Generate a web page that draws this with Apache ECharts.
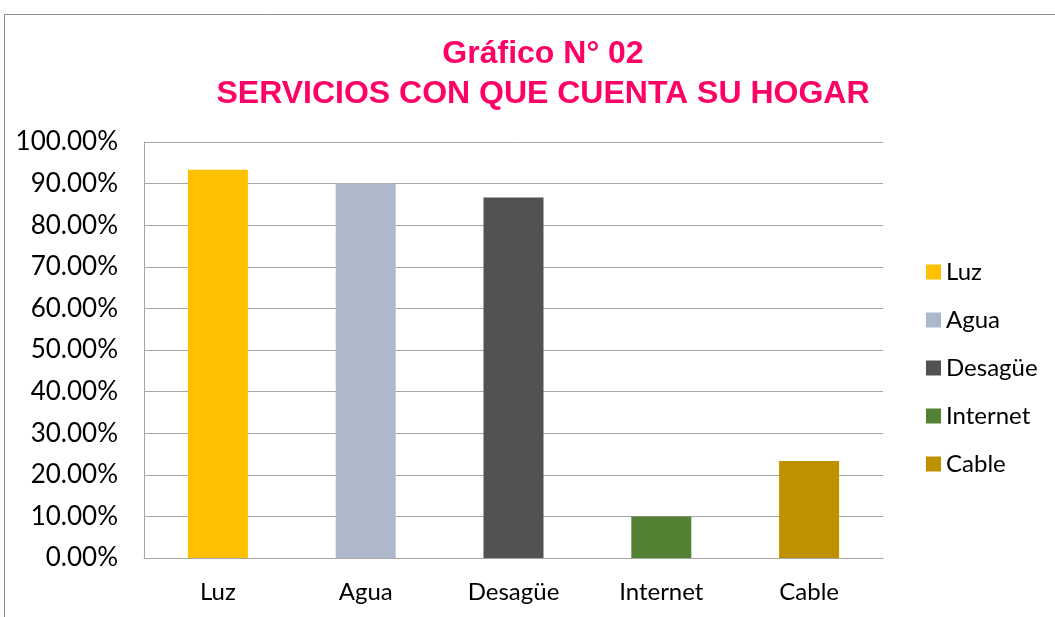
<!DOCTYPE html>
<html>
<head>
<meta charset="utf-8">
<script src="https://cdn.jsdelivr.net/npm/echarts@6/dist/echarts.min.js"></script>
<style>
  html, body { margin: 0; padding: 0; background: #fff; }
  #chart { width: 1055px; height: 617px; }
</style>
</head>
<body>
<div id="chart"></div>
<script>
// datos del grafico
var categorias = ['Luz', 'Agua', 'Desagüe', 'Internet', 'Cable']
var porcentajes = [93.33, 90.0, 86.67, 10.0, 23.33]
var colores = ['#FFC000', '#ADB9CA', '#525252', '#548235', '#BF9000']
var yTicks = [0, 10, 20, 30, 40, 50, 60, 70, 80, 90, 100]

var fuente = 'Lato, "Noto Sans", sans-serif'

// una serie por servicio, para que la leyenda tenga cada color
var series = categorias.map(function(nombre, i) {
  var data = categorias.map(function(c, j) {
    return j === i ? porcentajes[i] : '-'
  })
  return {
    name: nombre,
    type: 'bar',
    barWidth: 60,
    barGap: '-100%',
    itemStyle: { color: colores[i] },
    data: data
  }
})

var chart = echarts.init(document.getElementById('chart'))
chart.setOption({
  animation: false,
  title: {
    text: 'Gráfico N° 02\nSERVICIOS CON QUE CUENTA SU HOGAR',
    left: 538,
    textAlign: 'center',
    top: 29,
    textStyle: {
      fontFamily: '"Liberation Sans", Arial, sans-serif',
      fontWeight: 'bold',
      fontSize: 32,
      lineHeight: 40,
      color: '#FF0066'
    }
  },
  graphic: [
    {
      type: 'rect',
      shape: { x: 4.5, y: 14.5, width: 1200, height: 800 },
      style: { fill: 'none', stroke: '#8C8C8C', lineWidth: 1 },
      silent: true
    }
  ],
  legend: {
    orient: 'vertical',
    left: 921,
    top: 255,
    itemWidth: 15,
    itemHeight: 15,
    itemGap: 24,
    icon: 'rect',
    textStyle: { fontFamily: fuente, fontSize: 24, color: '#000', lineHeight: 24 },
    data: categorias
  },
  grid: {
    left: 144,
    right: 172,
    top: 142,
    bottom: 59
  },
  xAxis: {
    type: 'category',
    data: categorias,
    axisTick: { show: false },
    axisLine: { lineStyle: { color: '#A6A6A6', width: 1 } },
    axisLabel: { fontFamily: fuente, fontSize: 24, color: '#000', margin: 22 }
  },
  yAxis: {
    type: 'value',
    min: yTicks[0],
    max: yTicks[yTicks.length - 1],
    interval: 10,
    axisLine: { show: true, lineStyle: { color: '#A6A6A6', width: 1 } },
    axisTick: { show: false },
    splitLine: { lineStyle: { color: '#A6A6A6', width: 1 } },
    axisLabel: {
      fontFamily: fuente,
      fontSize: 26,
      color: '#000',
      margin: 26,
      formatter: function(v) { return v.toFixed(2) + '%' }
    }
  },
  series: series
})
</script>
</body>
</html>
